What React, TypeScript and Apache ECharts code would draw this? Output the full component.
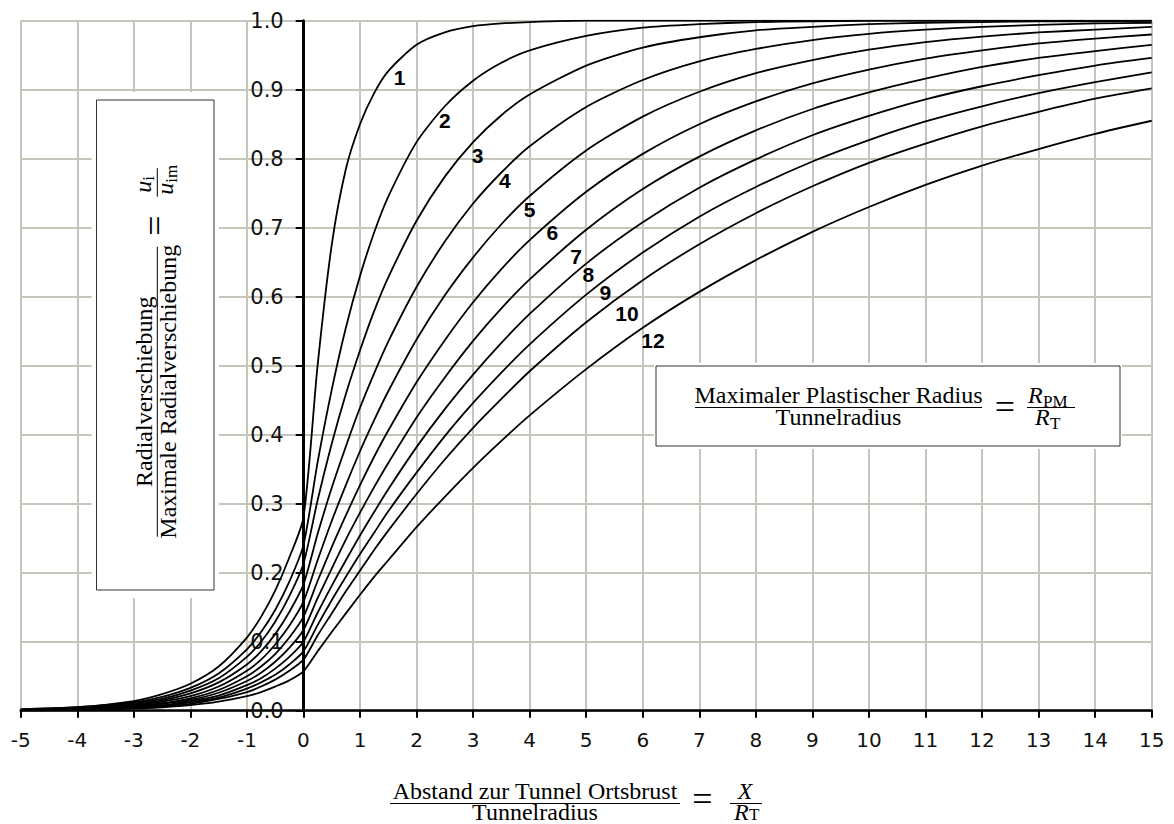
import React, { useEffect, useRef } from "react";
import * as echarts from "echarts";

// x positions (X / R_T) at which the curves were read
const xValues = [-5, -4, -3, -2.5, -2, -1.5, -1, -0.75, -0.5, -0.25, 0, 0.25, 0.5, 0.75, 1, 1.25, 1.5, 2, 2.5, 3, 3.5, 4, 5, 6, 7, 8, 9, 10, 11, 12, 13, 14, 15];

// u_i / u_im read for each R_PM / R_T curve
const curve1 = [0.002, 0.005, 0.014, 0.024, 0.039, 0.064, 0.106, 0.136, 0.174, 0.222, 0.28, 0.5, 0.675, 0.785, 0.85, 0.895, 0.927, 0.965, 0.983, 0.992, 0.996, 0.998, 1.0, 1.0, 1.0, 1.0, 1.0, 1.0, 1.0, 1.0, 1.0, 1.0, 1.0];
const curve2 = [0.002, 0.005, 0.012, 0.02, 0.033, 0.054, 0.089, 0.114, 0.146, 0.187, 0.24, 0.36, 0.465, 0.555, 0.63, 0.693, 0.745, 0.824, 0.876, 0.913, 0.939, 0.957, 0.978, 0.99, 0.995, 0.998, 0.999, 1.0, 1.0, 1.0, 1.0, 1.0, 1.0];
const curve3 = [0.001, 0.004, 0.011, 0.017, 0.029, 0.047, 0.078, 0.1, 0.129, 0.166, 0.213, 0.305, 0.387, 0.459, 0.522, 0.579, 0.628, 0.71, 0.774, 0.824, 0.863, 0.893, 0.935, 0.961, 0.976, 0.986, 0.991, 0.995, 0.997, 0.998, 0.999, 0.999, 1.0];
const curve4 = [0.001, 0.003, 0.009, 0.015, 0.025, 0.041, 0.067, 0.086, 0.111, 0.143, 0.183, 0.256, 0.323, 0.383, 0.439, 0.489, 0.535, 0.614, 0.68, 0.735, 0.78, 0.818, 0.875, 0.914, 0.941, 0.959, 0.972, 0.981, 0.987, 0.991, 0.994, 0.996, 0.997];
const curve5 = [0.001, 0.003, 0.008, 0.013, 0.021, 0.035, 0.058, 0.074, 0.096, 0.123, 0.158, 0.218, 0.275, 0.327, 0.376, 0.421, 0.463, 0.538, 0.602, 0.657, 0.705, 0.746, 0.812, 0.861, 0.897, 0.924, 0.943, 0.958, 0.969, 0.977, 0.983, 0.987, 0.991];
const curve6 = [0.001, 0.002, 0.007, 0.011, 0.018, 0.03, 0.05, 0.064, 0.082, 0.106, 0.136, 0.188, 0.237, 0.283, 0.327, 0.368, 0.406, 0.476, 0.537, 0.592, 0.64, 0.682, 0.752, 0.807, 0.85, 0.883, 0.909, 0.929, 0.945, 0.957, 0.967, 0.974, 0.98];
const curve7 = [0.001, 0.002, 0.006, 0.01, 0.016, 0.026, 0.043, 0.055, 0.071, 0.091, 0.117, 0.163, 0.206, 0.248, 0.287, 0.324, 0.359, 0.425, 0.483, 0.536, 0.583, 0.625, 0.697, 0.756, 0.803, 0.841, 0.872, 0.896, 0.916, 0.933, 0.946, 0.956, 0.965];
const curve8 = [0.001, 0.002, 0.005, 0.008, 0.014, 0.022, 0.037, 0.047, 0.061, 0.078, 0.1, 0.142, 0.181, 0.218, 0.254, 0.288, 0.321, 0.382, 0.437, 0.487, 0.533, 0.575, 0.648, 0.708, 0.758, 0.799, 0.834, 0.862, 0.886, 0.905, 0.921, 0.935, 0.946];
const curve9 = [0.001, 0.002, 0.004, 0.007, 0.012, 0.019, 0.032, 0.041, 0.052, 0.067, 0.086, 0.124, 0.16, 0.194, 0.227, 0.258, 0.289, 0.345, 0.398, 0.446, 0.49, 0.531, 0.603, 0.664, 0.716, 0.759, 0.796, 0.827, 0.854, 0.876, 0.895, 0.911, 0.925];
const curve10 = [0.001, 0.001, 0.004, 0.006, 0.01, 0.017, 0.027, 0.035, 0.045, 0.058, 0.074, 0.109, 0.141, 0.173, 0.203, 0.233, 0.261, 0.314, 0.364, 0.41, 0.452, 0.492, 0.563, 0.624, 0.676, 0.721, 0.76, 0.794, 0.822, 0.847, 0.868, 0.887, 0.902];
const curve12 = [0.0, 0.001, 0.003, 0.005, 0.008, 0.013, 0.021, 0.027, 0.035, 0.044, 0.057, 0.086, 0.114, 0.141, 0.168, 0.194, 0.218, 0.266, 0.31, 0.352, 0.391, 0.428, 0.495, 0.555, 0.607, 0.653, 0.694, 0.73, 0.762, 0.79, 0.814, 0.836, 0.855];

const curves = [curve1, curve2, curve3, curve4, curve5, curve6, curve7, curve8, curve9, curve10, curve12];
const curveNames = ["1", "2", "3", "4", "5", "6", "7", "8", "9", "10", "12"];
const labelX = [1.7, 2.5, 3.08, 3.56, 4.0, 4.4, 4.82, 5.04, 5.34, 5.72, 6.18];
const labelY = [0.917, 0.855, 0.805, 0.768, 0.726, 0.693, 0.658, 0.632, 0.606, 0.576, 0.537];

const SERIF = "'Liberation Serif', 'Times New Roman', serif";
const SANS = "'DejaVu Sans', sans-serif";

function txt(text: string, x: number, baseline: number, fs: number, align: string = "center", italic = false): any {
  return {
    type: "text",
    x,
    y: baseline - 0.34 * fs,
    z: 20,
    silent: true,
    style: {
      text,
      fontFamily: SERIF,
      fontSize: fs,
      lineHeight: Math.round(fs * 0.8),
      fontStyle: italic ? "italic" : "normal",
      fill: "#000",
      textAlign: align,
      textVerticalAlign: "middle",
    },
  };
}

function hline(x1: number, x2: number, y: number, w = 1): any {
  return {
    type: "line",
    z: 20,
    silent: true,
    shape: { x1, y1: y, x2, y2: y },
    style: { stroke: "#000", lineWidth: w },
  };
}

function box(x: number, y: number, w: number, h: number, px: number, py: number): any[] {
  return [
    { type: "rect", z: 18, silent: true, shape: { x: x - px, y: y - py, width: w + 2 * px, height: h + 2 * py }, style: { fill: "#fff" } },
    { type: "rect", z: 19, silent: true, shape: { x, y, width: w, height: h }, style: { fill: "#fff", stroke: "#333", lineWidth: 1 } },
  ];
}

const FS = 24;
const SUB = 17;
const EQ = 36;

const graphics: any[] = [
  // left box (rotated y-axis title)
  ...box(96.5, 100, 117.5, 490, 5, 8),
  {
    type: "group",
    x: 157.3,
    y: 391.7,
    rotation: Math.PI / 2,
    z: 20,
    children: [
      hline(-145, 145, 0),
      txt("Radialverschiebung", 0, -5, FS),
      txt("Maximale Radialverschiebung", 0, 19, FS),
      txt("=", 166, 9.5, EQ),
      hline(195, 223.5, 0),
      txt("u", 199, -6, FS, "left", true),
      txt("i", 211, -3, SUB, "left"),
      txt("u", 197, 16, FS, "left", true),
      txt("im", 209, 19.5, SUB, "left"),
    ],
  },
  // right box (legend title)
  ...box(656, 366, 464, 80, 2, 3),
  hline(695, 982, 407.5),
  txt("Maximaler Plastischer Radius", 838.5, 403.5, FS),
  txt("Tunnelradius", 838.5, 425, FS),
  txt("=", 1005, 419, EQ),
  hline(1027, 1075, 407.5),
  txt("R", 1028, 403.5, FS, "left", true),
  txt("PM", 1043, 407, SUB, "left"),
  txt("R", 1035, 425.5, FS, "left", true),
  txt("T", 1050, 429, SUB, "left"),
  // x-axis title
  hline(390, 680, 803.5),
  txt("Abstand zur Tunnel Ortsbrust", 535, 799.5, FS),
  txt("Tunnelradius", 535, 820.5, FS),
  txt("=", 702.5, 811.5, EQ),
  hline(730, 762, 803.5),
  txt("X", 745, 799.5, FS, "center", true),
  txt("R", 734, 820, FS, "left", true),
  txt("T", 749, 820.5, SUB, "left"),
];

const lineSeries = curves.map((c, i) => ({
  type: "line",
  name: curveNames[i],
  data: xValues.map((x, j) => [x, c[j]]),
  showSymbol: false,
  symbol: "none",
  smooth: 0.25,
  silent: true,
  z: 3,
  lineStyle: { color: "#000", width: 1.8 },
}));

const labelSeries = {
  type: "scatter",
  data: curveNames.map((n, i) => [labelX[i], labelY[i], n]),
  symbolSize: 1,
  silent: true,
  z: 4,
  itemStyle: { color: "transparent", opacity: 1 },
  label: {
    show: true,
    position: "inside",
    formatter: (p: any) => p.data[2],
    fontFamily: "'Liberation Sans', Arial, sans-serif",
    fontWeight: "bold",
    fontSize: 21,
    color: "#000",
    opacity: 1,
    textBorderWidth: 0,
    textBorderColor: "transparent",
  },
};

const option: any = {
  animation: false,
  backgroundColor: "#fff",
  grid: { left: 20.7, right: 22.3, top: 20.7, bottom: 113.3, containLabel: false, outerBoundsMode: "none" },
  xAxis: {
    type: "value",
    min: -5,
    max: 15,
    interval: 1,
    axisLine: { show: true, onZero: false, lineStyle: { color: "#000", width: 2.5 } },
    axisTick: { show: true, length: 7, lineStyle: { color: "#000", width: 2 } },
    axisLabel: { fontFamily: SANS, fontSize: 20, color: "#111", margin: 19 },
    splitLine: { show: true, lineStyle: { color: "#c5c5b9", width: 2 } },
  },
  yAxis: {
    type: "value",
    min: 0,
    max: 1,
    interval: 0.1,
    position: "left",
    offset: -283,
    axisLine: { show: true, onZero: false, lineStyle: { color: "#000", width: 3 } },
    axisTick: { show: true, length: 8, lineStyle: { color: "#000", width: 2 } },
    axisLabel: { fontFamily: SANS, fontSize: 21, color: "#111", margin: 20, formatter: (v: number) => v.toFixed(1) },
    splitLine: { show: true, lineStyle: { color: "#c5c5b9", width: 2 } },
  },
  series: [...lineSeries, labelSeries],
  graphic: graphics,
};

export default function App() {
  const ref = useRef<HTMLDivElement>(null);
  useEffect(() => {
    const chart = echarts.init(ref.current!, null, { renderer: "svg" });
    chart.setOption(option);
    return () => chart.dispose();
  }, []);
  return (
    <div
      ref={ref}
      style={{ position: "fixed", left: 0, top: 0, width: 1174, height: 824, background: "#fff" }}
    />
  );
}
